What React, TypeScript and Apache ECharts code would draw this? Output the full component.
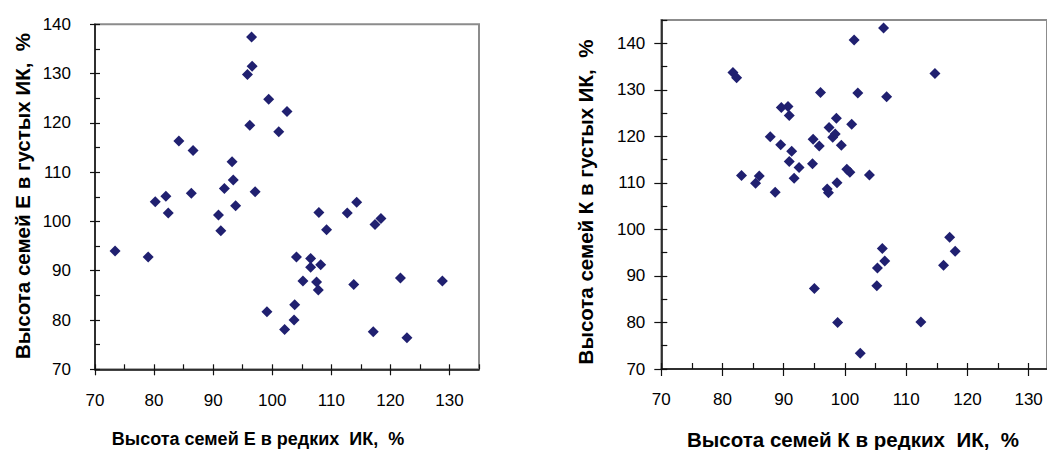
import React, { useEffect, useRef } from "react";
import * as echarts from "echarts";

// Left chart: E families (x: sparse, y: dense)
const leftX = [96.5, 96.6, 95.8, 99.4, 102.5, 96.2, 101.1, 84.2, 86.6, 93.2, 93.4, 91.9, 97.1, 86.3, 82.0, 80.2, 93.8, 82.4, 90.9, 91.3, 73.4, 79.0, 114.3, 107.9, 112.7, 118.4, 117.4, 109.2, 104.1, 106.5, 106.5, 108.2, 105.2, 107.5, 107.8, 113.8, 121.7, 128.8, 103.8, 103.7, 102.1, 117.1, 122.8, 99.1];
const leftY = [137.4, 131.5, 129.8, 124.8, 122.3, 119.5, 118.2, 116.3, 114.4, 112.1, 108.4, 106.7, 106.0, 105.7, 105.1, 104.0, 103.2, 101.7, 101.3, 98.1, 94.0, 92.8, 103.9, 101.8, 101.7, 100.6, 99.4, 98.3, 92.8, 92.5, 90.7, 91.2, 87.9, 87.7, 86.1, 87.2, 88.5, 87.9, 83.1, 80.0, 78.1, 77.6, 76.4, 81.7];

// Right chart: K families
const rightX = [81.7, 82.3, 96.0, 102.1, 106.8, 89.6, 90.7, 90.9, 98.6, 101.1, 97.4, 98.0, 98.4, 87.8, 89.5, 91.3, 94.8, 95.8, 99.4, 90.9, 92.5, 94.7, 100.3, 100.8, 104.0, 83.1, 86.0, 85.4, 91.7, 98.7, 88.6, 97.1, 97.3, 106.3, 101.5, 114.7, 117.1, 118.0, 116.1, 106.1, 106.5, 105.3, 105.2, 98.8, 112.4, 102.5, 95.0];
const rightY = [133.7, 132.6, 129.4, 129.3, 128.5, 126.2, 126.4, 124.5, 123.9, 122.6, 121.9, 119.8, 120.5, 119.9, 118.2, 116.8, 119.4, 117.9, 118.1, 114.6, 113.3, 114.1, 112.9, 112.3, 111.7, 111.6, 111.5, 109.9, 111.0, 110.0, 108.0, 108.7, 107.9, 143.3, 140.7, 133.5, 98.3, 95.3, 92.3, 95.9, 93.2, 91.7, 87.9, 80.0, 80.1, 73.4, 87.3];

// Tick values
const leftXMinorTicks = [70, 75, 80, 85, 90, 95, 100, 105, 110, 115, 120, 125, 130, 135];
const rightXMinorTicks = [70, 75, 80, 85, 90, 95, 100, 105, 110, 115, 120, 125, 130];
const xMajorTicks = [70, 80, 90, 100, 110, 120, 130];
const leftYMinorTicks = [70, 75, 80, 85, 90, 95, 100, 105, 110, 115, 120, 125, 130, 135, 140];
const leftYMajorTicks = [70, 80, 90, 100, 110, 120, 130, 140];
const rightYMinorTicks = [70, 75, 80, 85, 90, 95, 100, 105, 110, 115, 120, 125, 130, 135, 140, 145];
const rightYMajorTicks = [70, 80, 90, 100, 110, 120, 130, 140];

const leftXTitle = "Высота семей Е в редких  ИК,  %";
const leftYTitle = "Высота семей Е в густых ИК,  %";
const rightXTitle = "Высота семей К в редких  ИК,  %";
const rightYTitle = "Высота семей К в густых ИК,  %";

const FONT = "'Liberation Sans', Arial, sans-serif";
const MARK = "#202070";

function zip(a: number[], b: number[]) {
  return a.map((v, i) => [v, b[i]]);
}

export default function App() {
  const ref = useRef<HTMLDivElement>(null);
  useEffect(() => {
    if (!ref.current) return;
    const chart = echarts.init(ref.current, null, { renderer: "svg" });

    const axisPair = (
      kind: "x" | "y",
      grid: number,
      min: number,
      max: number,
      minor: number[],
      major: number[],
      inLen: number,
      outLen: number,
      margin: number
    ) => {
      const base: any = {
        type: "value",
        gridIndex: grid,
        min,
        max,
        splitLine: { show: false },
        position: kind === "x" ? "bottom" : "left",
      };
      return [
        {
          ...base,
          axisLine: { show: true, lineStyle: { color: "#111", width: 1.5 } },
          axisTick: {
            show: true,
            inside: true,
            length: inLen,
            customValues: minor,
            lineStyle: { color: "#111", width: 1.2 },
          },
          axisLabel: { show: false },
        },
        {
          ...base,
          axisLine: { show: false },
          axisTick: {
            show: true,
            inside: false,
            length: outLen,
            customValues: major,
            lineStyle: { color: "#111", width: 1.2 },
          },
          axisLabel: {
            show: true,
            customValues: major,
            margin,
            color: "#000",
            fontFamily: FONT,
            fontSize: 17,
          },
        },
      ];
    };

    const titleStyle = (size: number) => ({
      font: `bold ${size}px ${FONT}`,
      fill: "#000",
      textAlign: "center",
      textVerticalAlign: "middle",
    });

    chart.setOption({
      animation: false,
      backgroundColor: "#fff",
      grid: [
        { left: 95, top: 24.3, width: 384, height: 345, show: true, borderColor: "#8c8c8c", borderWidth: 2, backgroundColor: "transparent" },
        { left: 661.3, top: 20, width: 385.7, height: 349, show: true, borderColor: "#8c8c8c", borderWidth: 2, backgroundColor: "transparent" },
      ],
      xAxis: [
        ...axisPair("x", 0, 70, 135, leftXMinorTicks, xMajorTicks, 5, 6, 23),
        ...axisPair("x", 1, 70, 133, rightXMinorTicks, xMajorTicks, 6, 7, 22),
      ],
      yAxis: [
        ...axisPair("y", 0, 70, 140, leftYMinorTicks, leftYMajorTicks, 5, 5, 24),
        ...axisPair("y", 1, 70, 145, rightYMinorTicks, rightYMajorTicks, 6, 7, 16),
      ],
      series: [
        {
          type: "scatter",
          xAxisIndex: 0,
          yAxisIndex: 0,
          data: zip(leftX, leftY),
          symbol: "diamond",
          symbolSize: 11,
          itemStyle: { color: MARK, opacity: 1 },
        },
        {
          type: "scatter",
          xAxisIndex: 2,
          yAxisIndex: 2,
          data: zip(rightX, rightY),
          symbol: "diamond",
          symbolSize: 11,
          itemStyle: { color: MARK, opacity: 1 },
        },
      ],
      graphic: [
        { type: "text", x: 258, y: 439, style: { ...titleStyle(18), text: leftXTitle } },
        { type: "text", x: 853, y: 439, style: { ...titleStyle(20.5), text: rightXTitle } },
        { type: "text", x: 22, y: 196, rotation: Math.PI / 2, style: { ...titleStyle(20.5), text: leftYTitle } },
        { type: "text", x: 585, y: 202, rotation: Math.PI / 2, style: { ...titleStyle(20.5), text: rightYTitle } },
      ],
    });
    return () => chart.dispose();
  }, []);
  return (
    <div
      ref={ref}
      style={{ position: "absolute", left: 0, top: 0, width: 1047, height: 450 }}
    />
  );
}
